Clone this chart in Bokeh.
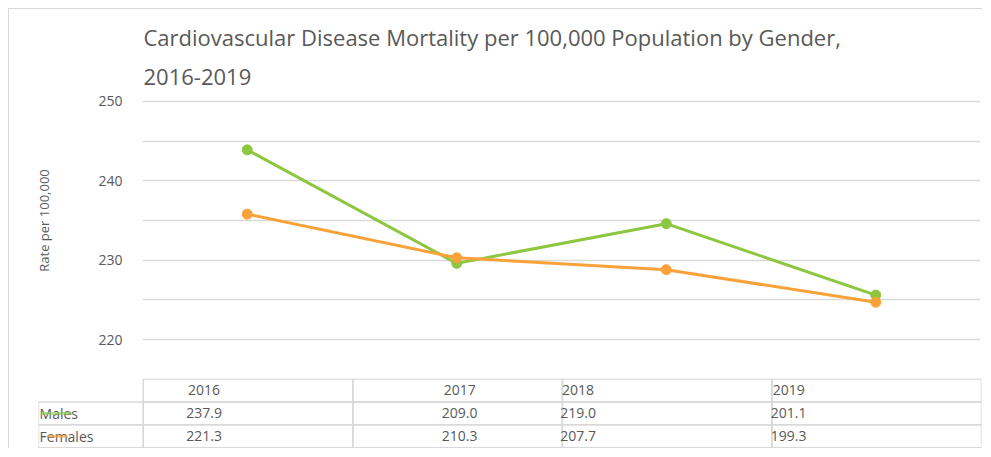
from bokeh.plotting import figure
from bokeh.models import FactorRange, Range1d, FixedTicker, Title, ColumnDataSource
from bokeh.core.properties import value
from bokeh.embed import file_html
from bokeh.resources import INLINE

# ---- data ----
years = ["2016", "2017", "2018", "2019"]
males_plotted = [243.9, 229.6, 234.6, 225.6]
females_plotted = [235.8, 230.3, 228.8, 224.7]
males_table = [237.9, 209.0, 219.0, 201.1]
females_table = [221.3, 210.3, 207.7, 199.3]
series_names = ["Males", "Females"]
y_ticks = [220, 230, 240, 250]
y_minor = [225, 235, 245]

GREEN = "#8DC63F"
ORANGE = "#F9A23A"
GRID = "#d9d9d9"
TXT = "#595959"
FONT = "Open Sans"
BORDER = "1px solid #d9d9d9"

# ---- chart ----
p1 = figure(width=974, height=359, x_range=FactorRange(*years, range_padding=0),
            y_range=Range1d(219.5, 250.5), output_backend="svg", toolbar_location=None,
            min_border_left=133, min_border_right=3, min_border_top=88, min_border_bottom=25,
            title="Cardiovascular Disease Mortality per 100,000 Population by Gender,")
p1.styles = {"margin-left": "8px", "margin-top": "8px", "border-left": BORDER, "border-top": BORDER}
p1.title.text_font = FONT
p1.title.text_font_size = "22px"
p1.title.text_font_style = "normal"
p1.title.text_color = TXT
p1.title.offset = 1
p1.title.standoff = 3
p1.add_layout(Title(text="2016-2019", text_font=FONT, text_font_size="22px",
                    text_font_style="normal", text_color=TXT, offset=1, standoff=26), "above")

p1.xaxis.visible = False
p1.xgrid.visible = False
p1.outline_line_color = None

ya = p1.yaxis[0]
ya.ticker = FixedTicker(ticks=y_ticks, minor_ticks=y_minor)
ya.axis_line_color = None
ya.major_tick_line_color = None
ya.minor_tick_line_color = None
ya.major_label_text_color = TXT
ya.major_label_text_font = FONT
ya.major_label_text_font_size = "14px"
ya.major_label_standoff = 14
ya.axis_label = "Rate per 100,000"
ya.axis_label_text_font = FONT
ya.axis_label_text_font_size = "13px"
ya.axis_label_text_font_style = "normal"
ya.axis_label_text_color = TXT
ya.axis_label_standoff = 42

p1.ygrid.grid_line_color = GRID
p1.ygrid.grid_line_width = 1.5
p1.ygrid.minor_grid_line_color = GRID
p1.ygrid.minor_grid_line_width = 1.5

for vals, col in [(males_plotted, GREEN), (females_plotted, ORANGE)]:
    src = ColumnDataSource(dict(x=years, y=vals))
    p1.line("x", "y", source=src, line_color=col, line_width=3)
    p1.scatter("x", "y", source=src, size=10, fill_color=col, line_color=col)

# ---- data table ----
p2 = figure(width=974, height=81, x_range=Range1d(-0.5, 4), y_range=Range1d(-0.03, 3.02),
            output_backend="svg", toolbar_location=None, x_axis_type=None, y_axis_type=None,
            min_border_left=29, min_border_right=2, min_border_top=11, min_border_bottom=0)
p2.styles = {"margin-left": "8px", "border-left": BORDER}
p2.title.visible = False
p2.xgrid.visible = False
p2.ygrid.visible = False
p2.outline_line_color = None

n = len(years)
idx = list(range(n))
# header cells
p2.quad(left=idx, right=[i + 1 for i in idx], bottom=[2] * n, top=[3] * n,
        fill_color=None, line_color=GRID, line_width=1.5)
# body cells (label column + year columns)
for row in [1, 0]:
    p2.quad(left=[-0.5] + idx, right=[0] + [i + 1 for i in idx], bottom=[row] * (n + 1),
            top=[row + 1] * (n + 1), fill_color=None, line_color=GRID, line_width=1.5)

col_text_offset = [0.29, 0.51, 0.075, 0.08]
tx = [i + o for i, o in zip(idx, col_text_offset)]
rows_text = [(years, 2.5), ([f"{v:.1f}" for v in males_table], 1.5),
             ([f"{v:.1f}" for v in females_table], 0.5)]
for texts, yy in rows_text:
    p2.text(x=tx, y=[yy] * n, text=texts, text_font=value(FONT), text_font_size="14px",
            text_color=TXT, text_align="center", text_baseline="middle")

# row labels with legend keys
p2.text(x=[-0.495, -0.495], y=[1.5, 0.5], text=series_names, text_font=value(FONT),
        text_font_size="14px", text_color=TXT, text_align="left", text_baseline="middle")
p2.segment(x0=[-0.49, -0.46], y0=[1.5, 0.5], x1=[-0.34, -0.36], y1=[1.5, 0.5],
           line_color=[GREEN, ORANGE], line_width=3, line_alpha=0.6)

open("out.html", "w").write(file_html([p1, p2], INLINE))
